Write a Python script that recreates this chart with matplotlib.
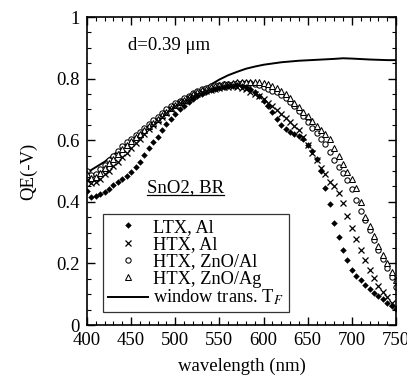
import numpy as np
import matplotlib
matplotlib.use("Agg")
import matplotlib.pyplot as plt
from matplotlib.ticker import MultipleLocator
from matplotlib.lines import Line2D

# ── Data ────────────────────────────────────────────────────
wl = list(range(400, 755, 5))

ltx_al = [0.435, 0.417, 0.420, 0.425, 0.432, 0.440, 0.455, 0.465, 0.475, 0.485,
          0.497, 0.512, 0.530, 0.552, 0.575, 0.595, 0.612, 0.632, 0.652, 0.668,
          0.685, 0.700, 0.712, 0.723, 0.733, 0.742, 0.750, 0.757, 0.763, 0.767,
          0.770, 0.773, 0.775, 0.777, 0.778, 0.776, 0.772, 0.765, 0.755, 0.742,
          0.728, 0.710, 0.690, 0.668, 0.648, 0.635, 0.627, 0.620, 0.613, 0.603,
          0.585, 0.565, 0.538, 0.500, 0.445, 0.393, 0.330, 0.285, 0.243, 0.210,
          0.180, 0.160, 0.145, 0.130, 0.118, 0.105, 0.095, 0.083, 0.072, 0.062,
          0.052]

htx_al = [0.470, 0.460, 0.465, 0.475, 0.490, 0.500, 0.515, 0.530, 0.545, 0.560,
          0.575, 0.590, 0.605, 0.620, 0.635, 0.650, 0.663, 0.675, 0.688, 0.700,
          0.710, 0.720, 0.728, 0.736, 0.743, 0.750, 0.755, 0.760, 0.764, 0.767,
          0.770, 0.772, 0.774, 0.775, 0.774, 0.770, 0.765, 0.757, 0.750, 0.742,
          0.733, 0.722, 0.710, 0.697, 0.685, 0.672, 0.658, 0.645, 0.632, 0.612,
          0.585, 0.560, 0.535, 0.510, 0.490, 0.465, 0.450, 0.430, 0.395, 0.355,
          0.315, 0.280, 0.245, 0.210, 0.180, 0.152, 0.128, 0.108, 0.090, 0.073,
          0.058]

htx_zno_al = [0.500, 0.487, 0.490, 0.505, 0.520, 0.535, 0.550, 0.565, 0.580, 0.593,
              0.605, 0.617, 0.628, 0.640, 0.652, 0.664, 0.676, 0.688, 0.700, 0.710,
              0.720, 0.728, 0.736, 0.744, 0.752, 0.759, 0.765, 0.770, 0.775, 0.778,
              0.780, 0.782, 0.783, 0.784, 0.785, 0.786, 0.787, 0.786, 0.783, 0.778,
              0.773, 0.767, 0.761, 0.755, 0.747, 0.737, 0.724, 0.710, 0.694, 0.678,
              0.660, 0.640, 0.622, 0.605, 0.588, 0.563, 0.535, 0.513, 0.493, 0.470,
              0.440, 0.405, 0.370, 0.340, 0.310, 0.275, 0.245, 0.215, 0.185, 0.155,
              0.125]

htx_zno_ag = [0.490, 0.478, 0.482, 0.495, 0.510, 0.525, 0.540, 0.555, 0.570, 0.583,
              0.596, 0.609, 0.621, 0.633, 0.645, 0.657, 0.669, 0.681, 0.693, 0.704,
              0.714, 0.723, 0.732, 0.741, 0.749, 0.756, 0.762, 0.767, 0.772, 0.776,
              0.779, 0.782, 0.784, 0.786, 0.788, 0.789, 0.790, 0.790, 0.790, 0.790,
              0.787, 0.782, 0.776, 0.769, 0.761, 0.750, 0.737, 0.722, 0.707, 0.692,
              0.677, 0.662, 0.647, 0.633, 0.620, 0.605, 0.575, 0.548, 0.522, 0.498,
              0.473, 0.445, 0.400, 0.352, 0.320, 0.290, 0.258, 0.228, 0.200, 0.172,
              0.145]

win_wl = [400, 420, 440, 460, 480, 500, 520, 540, 550, 560, 570, 580, 590,
          600, 620, 640, 660, 680, 690, 700, 720, 740, 750]
win_tf = [0.495, 0.530, 0.575, 0.622, 0.670, 0.712, 0.748, 0.780, 0.797, 0.811,
          0.822, 0.832, 0.839, 0.845, 0.853, 0.858, 0.861, 0.864, 0.866, 0.865,
          0.862, 0.860, 0.860]

# ── Style ────────────────────────────────────────────────────
plt.rcParams.update({
    "font.family": ["Liberation Serif", "DejaVu Serif"],
    "mathtext.fontset": "stix",
    "xtick.direction": "in",
    "ytick.direction": "in",
    "xtick.top": True,
    "ytick.right": True,
})

fig = plt.figure(figsize=(4.07, 3.78), dpi=100)
ax = fig.add_axes([87 / 407, 53 / 378, 309 / 407, 308 / 378])

ms = 3.8
ax.plot(win_wl, win_tf, color="black", lw=1.4, zorder=1, label="window trans. T$_F$")
ax.plot(wl, ltx_al, "D", ms=ms - 0.5, color="black", mew=0, zorder=3, label="LTX, Al")
ax.plot(wl, htx_al, "x", ms=ms + 0.6, color="black", mew=0.9, zorder=3, label="HTX, Al")
ax.plot(wl, htx_zno_al, "o", ms=ms, mfc="white", mec="black", mew=0.75, zorder=2,
        label="HTX, ZnO/Al")
ax.plot(wl, htx_zno_ag, "^", ms=ms, mfc="white", mec="black", mew=0.75, zorder=2,
        label="HTX, ZnO/Ag")

ax.set_xlim(400, 750)
ax.set_ylim(0, 1)
ax.xaxis.set_major_locator(MultipleLocator(50))
ax.xaxis.set_minor_locator(MultipleLocator(10))
ax.yaxis.set_major_locator(MultipleLocator(0.2))
ax.yaxis.set_minor_locator(MultipleLocator(0.05))
ax.set_yticks([0, 0.2, 0.4, 0.6, 0.8, 1.0], ["0", "0.2", "0.4", "0.6", "0.8", "1"])
ax.tick_params(which="major", length=6, width=1, labelsize=13.5, pad=5)
ax.tick_params(which="minor", length=3, width=0.8)
for s in ax.spines.values():
    s.set_linewidth(1.2)

ax.set_xlabel("wavelength (nm)", fontsize=13.5, labelpad=6)
ax.set_ylabel("QE(-V)", fontsize=13.5, labelpad=14)

ax.text(0.133, 0.893, "d=0.39 μm", transform=ax.transAxes, fontsize=13.5,
        ha="left", va="baseline")
t = ax.text(0.194, 0.432, "SnO2, BR", transform=ax.transAxes, fontsize=13.5,
            ha="left", va="baseline")

# underline under "SnO2, BR"
fig.canvas.draw()
bb = t.get_window_extent().transformed(ax.transAxes.inverted())
ax.add_line(Line2D([bb.x0, bb.x1], [0.422, 0.422], transform=ax.transAxes,
                   color="black", lw=0.9))

h, l = ax.get_legend_handles_labels()
order = [1, 2, 3, 4, 0]
leg = ax.legend([h[i] for i in order], [l[i] for i in order],
                loc="lower left", bbox_to_anchor=(0.052, 0.042), borderaxespad=0,
                fontsize=13.2, frameon=True, fancybox=False, edgecolor="black",
                handlelength=2.2, handletextpad=0.3, labelspacing=0.02,
                borderpad=0.25, markerscale=1.0)
leg.get_frame().set_linewidth(0.9)

plt.savefig("out.png", dpi=100)
